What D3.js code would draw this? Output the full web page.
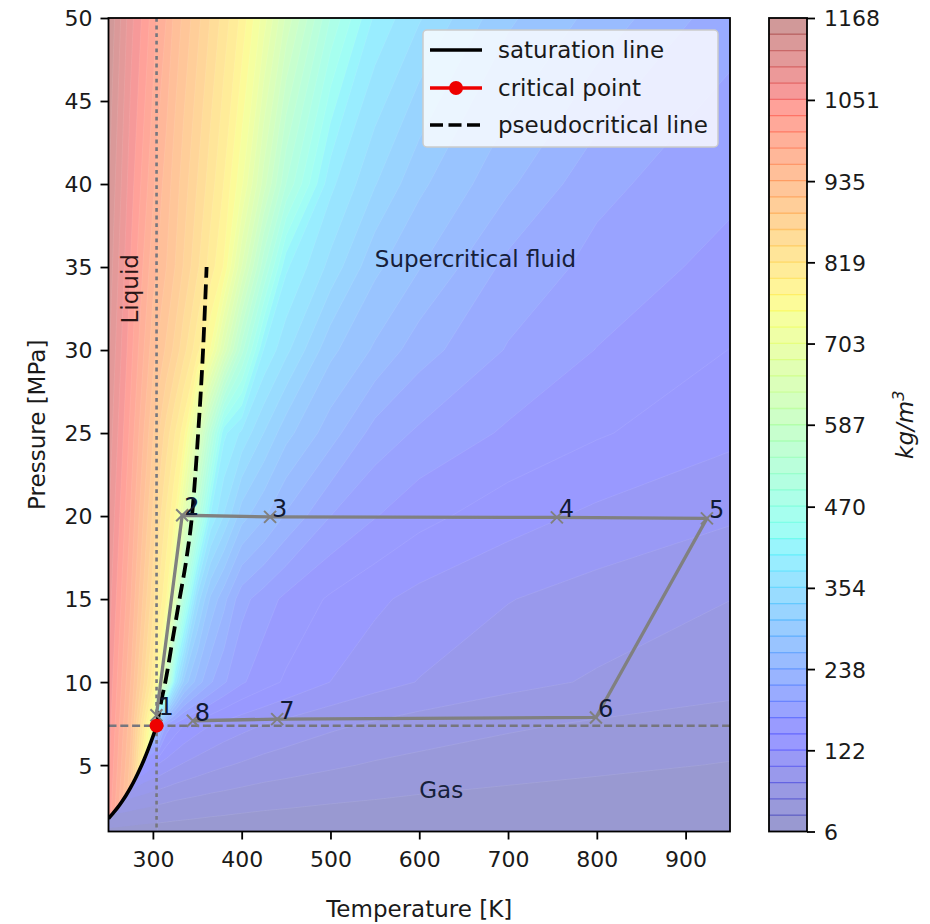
<!DOCTYPE html>
<html>
<head>
<meta charset="utf-8">
<title>CO2 density map</title>
<script src="https://cdn.jsdelivr.net/npm/d3@7/dist/d3.min.js"></script>
<style>
    body { margin: 0; background: #fff; }
    svg text { font-family: "DejaVu Sans", sans-serif; fill: #1a1a1a; }
</style>
</head>
<body>
<div id="density-chart"></div>
<script>

// temperature columns [K] and pressure rows [MPa] of the density grid
const temps = [250, 275, 300, 305, 315, 325, 335, 350, 365, 380, 400, 425, 450, 500, 550, 600, 700, 800, 950];
const pressures = [1, 3, 5, 7.4, 10, 15, 20, 25, 30, 35, 40, 50];

// density [kg/m3], one row per pressure (liquid side carried on below the saturation line)
const density = [
    [1040, 905, 600, 18.5, 17.8, 17.2, 16.7, 15.9, 15.2, 14.5, 13.7, 12.8, 12.0, 10.8, 9.8, 8.9, 7.6, 6.7, 6.0],
    [1050, 912, 620, 61, 58, 55, 53, 50, 47, 45, 42, 39, 37, 33, 30, 27, 23, 20, 17],
    [1058, 927, 650, 120, 110, 102, 96, 89, 83, 78, 73, 67, 63, 56, 50, 46, 39, 34, 28],
    [1065, 942, 720, 290, 185, 160, 145, 132, 122, 114, 106, 98, 91, 80, 72, 65, 56, 49, 41],
    [1073, 958, 805, 760, 600, 390, 300, 250, 218, 195, 172, 155, 142, 122, 108, 98, 83, 73, 61],
    [1088, 983, 852, 822, 775, 662, 497, 345, 280, 246, 200, 180, 163, 142, 127, 115, 100, 89, 76],
    [1101, 1003, 885, 860, 815, 771, 682, 534, 398, 353, 295, 265, 235, 192, 170, 153, 132, 117, 102],
    [1114, 1021, 915, 895, 856, 819, 782, 663, 530, 407, 373, 331, 293, 249, 206, 188, 165, 148, 128],
    [1126, 1037, 945, 933, 908, 881, 850, 804, 748, 651, 527, 399, 361, 291, 258, 225, 190, 168, 145],
    [1137, 1050, 968, 958, 936, 912, 886, 847, 808, 770, 657, 522, 405, 347, 290, 263, 208, 185, 160],
    [1147, 1062, 988, 973, 948, 924, 900, 865, 830, 795, 732, 622, 517, 384, 333, 290, 243, 198, 175],
    [1168, 1083, 1018, 1004, 982, 951, 929, 897, 864, 832, 789, 715, 629, 493, 396, 357, 289, 254, 200]
];

// vapour side, only shown below the saturation line
const gasTemps = [250, 260, 270, 280, 290, 300, 305];
const gasPressures = [1, 2, 3, 4, 5, 6, 7.4];
const gasDensity = [
    [23.6, 22.5, 21.3, 20.3, 19.5, 18.8, 18.5],
    [53, 49.5, 46.7, 44, 42, 40, 38.5],
    [90, 85, 79.5, 72.7, 68, 64, 61],
    [130, 125, 118, 113, 101, 93, 89],
    [175, 170, 165, 160, 152, 128, 120],
    [220, 215, 210, 205, 210, 185, 175],
    [280, 275, 270, 265, 270, 330, 290]
];

// saturation line and pseudocritical line
const satT = [250, 255, 260, 265, 270, 275, 280, 285, 290, 295, 300, 302, 304.13];
const satP = [1.785, 2.091, 2.419, 2.794, 3.203, 3.656, 4.161, 4.718, 5.318, 5.988, 6.713, 7.023, 7.377];
const pcT = [304.13, 306.5, 310, 314, 322, 330, 338, 344, 351, 356.5, 360.5];
const pcP = [7.377, 8, 9, 10, 12.5, 15, 17.5, 20, 25, 30, 35];
const critT = 304.13;
const critP = 7.377;

// cycle state points
const cycleLabels = ["1", "2", "3", "4", "5", "6", "7", "8"];
const cycleT = [304, 333, 432, 755, 924, 799, 440, 345];
const cycleP = [8.0, 20.05, 19.95, 19.92, 19.86, 7.87, 7.77, 7.67];

// region annotations
const regionNames = ["Supercritical fluid", "Gas", "Liquid"];
const regionT = [550, 600, 283];
const regionP = [35, 3, 31.6];

const legendNames = ["saturation line", "critical point", "pseudocritical line"];

const xTicks = [300, 400, 500, 600, 700, 800, 900];
const yTicks = [5, 10, 15, 20, 25, 30, 35, 40, 45, 50];
const cbTicks = [6, 122, 238, 354, 470, 587, 703, 819, 935, 1051, 1168];
const densityMin = 6;
const densityMax = 1168;
const nBands = 50;


/*
 * DensityMap - filled density contours with the cycle drawn on top
 */

class DensityMap {

    constructor(_parentElement) {
        this.parentElement = _parentElement;
        this.initVis();
    }

    initVis() {
        let vis = this;

        vis.width = 930;
        vis.height = 924;
        vis.plot = { left: 108.5, right: 730, top: 18, bottom: 831.5 };
        vis.cbar = { left: 769, right: 807, top: 18, bottom: 831.5 };

        vis.svg = d3.select("#" + vis.parentElement).append("svg")
            .attr("width", vis.width)
            .attr("height", vis.height);

        vis.x = d3.scaleLinear().domain([250, 950]).range([vis.plot.left, vis.plot.right]);
        vis.y = d3.scaleLinear().domain([1, 50]).range([vis.plot.bottom, vis.plot.top]);
        vis.cb = d3.scaleLinear().domain([densityMin, densityMax]).range([vis.cbar.bottom, vis.cbar.top]);

        // matplotlib jet, drawn at alpha 0.4 on white
        let jetR = d3.scaleLinear().domain([0, 0.35, 0.66, 0.89, 1]).range([0, 0, 1, 1, 0.5]);
        let jetG = d3.scaleLinear().domain([0, 0.125, 0.375, 0.64, 0.91, 1]).range([0, 0, 1, 1, 0, 0]);
        let jetB = d3.scaleLinear().domain([0, 0.11, 0.34, 0.65, 1]).range([0.5, 1, 1, 0, 0]);
        vis.jet = function(t, a) {
            let mix = c => Math.round(255 * (1 - a + a * c));
            return d3.rgb(mix(jetR(t)), mix(jetG(t)), mix(jetB(t))).formatHex();
        };

        vis.levels = d3.range(nBands + 1).map(i => densityMin + i * (densityMax - densityMin) / nBands);
        vis.bandColors = d3.range(nBands).map(i => vis.jet((i + 0.5) / nBands, 0.4));
        vis.bandLines = d3.range(nBands).map(i => vis.jet((i + 0.5) / nBands, 1));

        let defs = vis.svg.append("defs");
        defs.append("clipPath").attr("id", "plot-clip")
            .append("rect")
            .attr("x", vis.plot.left).attr("y", vis.plot.top)
            .attr("width", vis.plot.right - vis.plot.left)
            .attr("height", vis.plot.bottom - vis.plot.top);

        // area under the saturation line (plus the sliver up to the 305 K column)
        let satLine = d3.line().curve(d3.curveMonotoneX);
        let satPts = satT.map((t, i) => [vis.x(t), vis.y(satP[i])]);
        vis.gasClipPath = satLine(satPts)
            + "L" + vis.x(305) + "," + vis.y(critP)
            + "L" + vis.x(305) + "," + (vis.y(1) + 2)
            + "L" + (vis.x(250) - 2) + "," + (vis.y(1) + 2)
            + "L" + (vis.x(250) - 2) + "," + vis.y(satP[0]) + "Z";
        defs.append("clipPath").attr("id", "gas-clip")
            .append("path").attr("d", vis.gasClipPath);

        vis.wrangleData();
    }

    /*
     * turn the grids into filled band paths
     */

    wrangleData() {
        let vis = this;

        vis.mainBands = vis.bandPaths(temps, pressures, density);
        vis.gasBands = vis.bandPaths(gasTemps, gasPressures, gasDensity);

        vis.updateVis();
    }

    bandPaths(tGrid, pGrid, rows) {
        let vis = this;
        let nx = tGrid.length, ny = pGrid.length;

        // grid index -> physical value (non uniform grid)
        let tAt = d3.scaleLinear().domain(d3.range(nx)).range(tGrid).clamp(true);
        let pAt = d3.scaleLinear().domain(d3.range(ny)).range(pGrid).clamp(true);

        let contours = d3.contours()
            .size([nx, ny])
            .thresholds(vis.levels.slice(1, -1))(rows.flat());

        return contours.map((c, k) => ({
            band: k + 1,
            d: c.coordinates.map(poly => poly.map(ring =>
                "M" + ring.map(([i, j]) =>
                    vis.x(tAt(i - 0.5)).toFixed(2) + "," + vis.y(pAt(j - 0.5)).toFixed(2)).join("L") + "Z"
            ).join("")).join("")
        }));
    }

    updateVis() {
        let vis = this;
        let P = vis.plot;

        let plotG = vis.svg.append("g").attr("clip-path", "url(#plot-clip)");

        // lowest band as background, then the contour bands on top
        plotG.append("rect")
            .attr("x", P.left).attr("y", P.top)
            .attr("width", P.right - P.left).attr("height", P.bottom - P.top)
            .attr("fill", vis.bandColors[0]);

        plotG.append("g").selectAll("path")
            .data(vis.mainBands)
            .enter().append("path")
            .attr("d", d => d.d)
            .attr("fill", d => vis.bandColors[d.band])
            .attr("fill-rule", "evenodd")
            .attr("stroke", "#ffffff")
            .attr("stroke-opacity", 0.12)
            .attr("stroke-width", 0.7);

        let gasG = plotG.append("g").attr("clip-path", "url(#gas-clip)");
        gasG.append("rect")
            .attr("x", P.left - 2).attr("y", vis.y(critP) - 2)
            .attr("width", vis.x(306) - P.left + 2).attr("height", P.bottom - vis.y(critP) + 4)
            .attr("fill", vis.bandColors[0]);
        gasG.selectAll("path")
            .data(vis.gasBands)
            .enter().append("path")
            .attr("d", d => d.d)
            .attr("fill", d => vis.bandColors[d.band])
            .attr("fill-rule", "evenodd");

        // critical isotherm / isobar
        plotG.append("line")
            .attr("x1", vis.x(critT)).attr("x2", vis.x(critT))
            .attr("y1", P.top).attr("y2", P.bottom)
            .attr("stroke", "#76767e").attr("stroke-width", 2.6)
            .attr("stroke-dasharray", "3.8,3.8");
        plotG.append("line")
            .attr("x1", P.left).attr("x2", P.right)
            .attr("y1", vis.y(critP)).attr("y2", vis.y(critP))
            .attr("stroke", "#76767e").attr("stroke-width", 2.5)
            .attr("stroke-dasharray", "8,3.8");

        let curve = d3.line()
            .x(d => vis.x(d[0]))
            .y(d => vis.y(d[1]))
            .curve(d3.curveMonotoneX);

        plotG.append("path")
            .attr("d", curve(satT.map((t, i) => [t, satP[i]])))
            .attr("fill", "none").attr("stroke", "#000").attr("stroke-width", 3.6);

        plotG.append("path")
            .attr("d", curve(pcT.map((t, i) => [t, pcP[i]])))
            .attr("fill", "none").attr("stroke", "#000").attr("stroke-width", 3.8)
            .attr("stroke-dasharray", "15,6.5");

        // cycle
        let cycle = d3.line().x(d => vis.x(d[0])).y(d => vis.y(d[1]));
        let cyclePts = cycleT.map((t, i) => [t, cycleP[i]]);
        plotG.append("path")
            .attr("d", cycle(cyclePts))
            .attr("fill", "none").attr("stroke", "#808080").attr("stroke-width", 3.3)
            .attr("stroke-linejoin", "round");

        plotG.append("g").selectAll("path")
            .data(cyclePts)
            .enter().append("path")
            .attr("transform", d => "translate(" + vis.x(d[0]) + "," + vis.y(d[1]) + ")")
            .attr("d", "M-6,-6L6,6M-6,6L6,-6")
            .attr("stroke", "#808080").attr("stroke-width", 2);

        plotG.append("circle")
            .attr("cx", vis.x(critT)).attr("cy", vis.y(critP)).attr("r", 7)
            .attr("fill", "#ee0000");

        vis.svg.append("g").selectAll("text")
            .data(cyclePts)
            .enter().append("text")
            .attr("x", d => vis.x(d[0]) + 2)
            .attr("y", d => vis.y(d[1]))
            .attr("font-size", 24)
            .style("fill", "#111a33")
            .text((d, i) => cycleLabels[i]);

        // region names
        regionNames.forEach(function(name, i) {
            let t = vis.svg.append("text")
                .attr("font-size", 23)
                .text(name);
            if (name === "Liquid") {
                t.attr("transform", "translate(" + vis.x(regionT[i]) + "," + vis.y(regionP[i]) + ") rotate(-90)")
                    .style("fill", "#2a1515");
            } else {
                t.attr("x", vis.x(regionT[i])).attr("y", vis.y(regionP[i]))
                    .style("fill", "#16203a");
            }
        });

        // legend
        let leg = vis.svg.append("g");
        leg.append("rect")
            .attr("x", 423).attr("y", 30).attr("width", 295).attr("height", 117).attr("rx", 4)
            .attr("fill", "#ffffff").attr("fill-opacity", 0.8)
            .attr("stroke", "#cccccc").attr("stroke-width", 1.5);
        let rowY = [50, 88, 125];
        leg.append("line").attr("x1", 430).attr("x2", 482).attr("y1", rowY[0]).attr("y2", rowY[0])
            .attr("stroke", "#000").attr("stroke-width", 3.6);
        leg.append("line").attr("x1", 430).attr("x2", 482).attr("y1", rowY[1]).attr("y2", rowY[1])
            .attr("stroke", "#ee0000").attr("stroke-width", 3.6);
        leg.append("circle").attr("cx", 456).attr("cy", rowY[1]).attr("r", 7).attr("fill", "#ee0000");
        leg.append("line").attr("x1", 430).attr("x2", 482).attr("y1", rowY[2]).attr("y2", rowY[2])
            .attr("stroke", "#000").attr("stroke-width", 3.6).attr("stroke-dasharray", "13,5.5");
        leg.selectAll("text.leg")
            .data(legendNames)
            .enter().append("text")
            .attr("class", "leg")
            .attr("x", 498)
            .attr("y", (d, i) => rowY[i])
            .attr("dy", "0.36em")
            .attr("font-size", 23)
            .text(d => d);

        // frame and axes
        vis.svg.append("rect")
            .attr("x", P.left).attr("y", P.top)
            .attr("width", P.right - P.left).attr("height", P.bottom - P.top)
            .attr("fill", "none").attr("stroke", "#000").attr("stroke-width", 1.8);

        let xAxis = vis.svg.append("g").attr("transform", "translate(0," + P.bottom + ")")
            .call(d3.axisBottom(vis.x).tickValues(xTicks).tickSize(8).tickPadding(0).tickFormat(d3.format("d")));
        let yAxis = vis.svg.append("g").attr("transform", "translate(" + P.left + ",0)")
            .call(d3.axisLeft(vis.y).tickValues(yTicks).tickSize(8).tickPadding(8).tickFormat(d3.format("d")));
        [xAxis, yAxis].forEach(function(a) {
            a.select(".domain").remove();
            a.selectAll("line").attr("stroke", "#000").attr("stroke-width", 1.8);
            a.selectAll("text").attr("font-size", 22).style("font-family", "DejaVu Sans").style("fill", "#1a1a1a");
        });
        xAxis.selectAll("text").attr("dy", null).attr("y", 35.5);
        yAxis.selectAll("text").attr("dy", "0.36em");

        vis.svg.append("text")
            .attr("x", (P.left + P.right) / 2).attr("y", 917)
            .attr("text-anchor", "middle").attr("font-size", 23)
            .text("Temperature [K]");
        vis.svg.append("text")
            .attr("transform", "translate(45," + (P.top + P.bottom) / 2 + ") rotate(-90)")
            .attr("text-anchor", "middle").attr("font-size", 23)
            .text("Pressure [MPa]");

        // colorbar
        let C = vis.cbar;
        let cbG = vis.svg.append("g");
        cbG.selectAll("rect.band")
            .data(d3.range(nBands))
            .enter().append("rect")
            .attr("class", "band")
            .attr("x", C.left).attr("width", C.right - C.left)
            .attr("y", i => vis.cb(vis.levels[i + 1]))
            .attr("height", i => vis.cb(vis.levels[i]) - vis.cb(vis.levels[i + 1]) + 0.3)
            .attr("fill", i => vis.bandColors[i]);
        cbG.selectAll("line.seam")
            .data(d3.range(1, nBands))
            .enter().append("line")
            .attr("class", "seam")
            .attr("x1", C.left).attr("x2", C.right)
            .attr("y1", i => vis.cb(vis.levels[i])).attr("y2", i => vis.cb(vis.levels[i]))
            .attr("stroke", i => vis.bandLines[i]).attr("stroke-opacity", 0.35).attr("stroke-width", 1.3);
        cbG.append("rect")
            .attr("x", C.left).attr("y", C.top)
            .attr("width", C.right - C.left).attr("height", C.bottom - C.top)
            .attr("fill", "none").attr("stroke", "#000").attr("stroke-width", 1.8);

        let cAxis = vis.svg.append("g").attr("transform", "translate(" + C.right + ",0)")
            .call(d3.axisRight(vis.cb).tickValues(cbTicks).tickSize(8).tickPadding(9).tickFormat(d3.format("d")));
        cAxis.select(".domain").remove();
        cAxis.selectAll("line").attr("stroke", "#000").attr("stroke-width", 1.8);
        cAxis.selectAll("text").attr("font-size", 22).attr("dy", "0.36em")
            .style("font-family", "DejaVu Sans").style("fill", "#1a1a1a");

        let unit = vis.svg.append("text")
            .attr("transform", "translate(913," + (C.top + C.bottom) / 2 + ") rotate(-90)")
            .attr("text-anchor", "middle").attr("font-size", 23)
            .style("font-style", "italic");
        unit.append("tspan").text("kg/m");
        unit.append("tspan").attr("font-size", 16).attr("dy", "-0.55em").text("3");
    }
}

new DensityMap("density-chart");

</script>
</body>
</html>
